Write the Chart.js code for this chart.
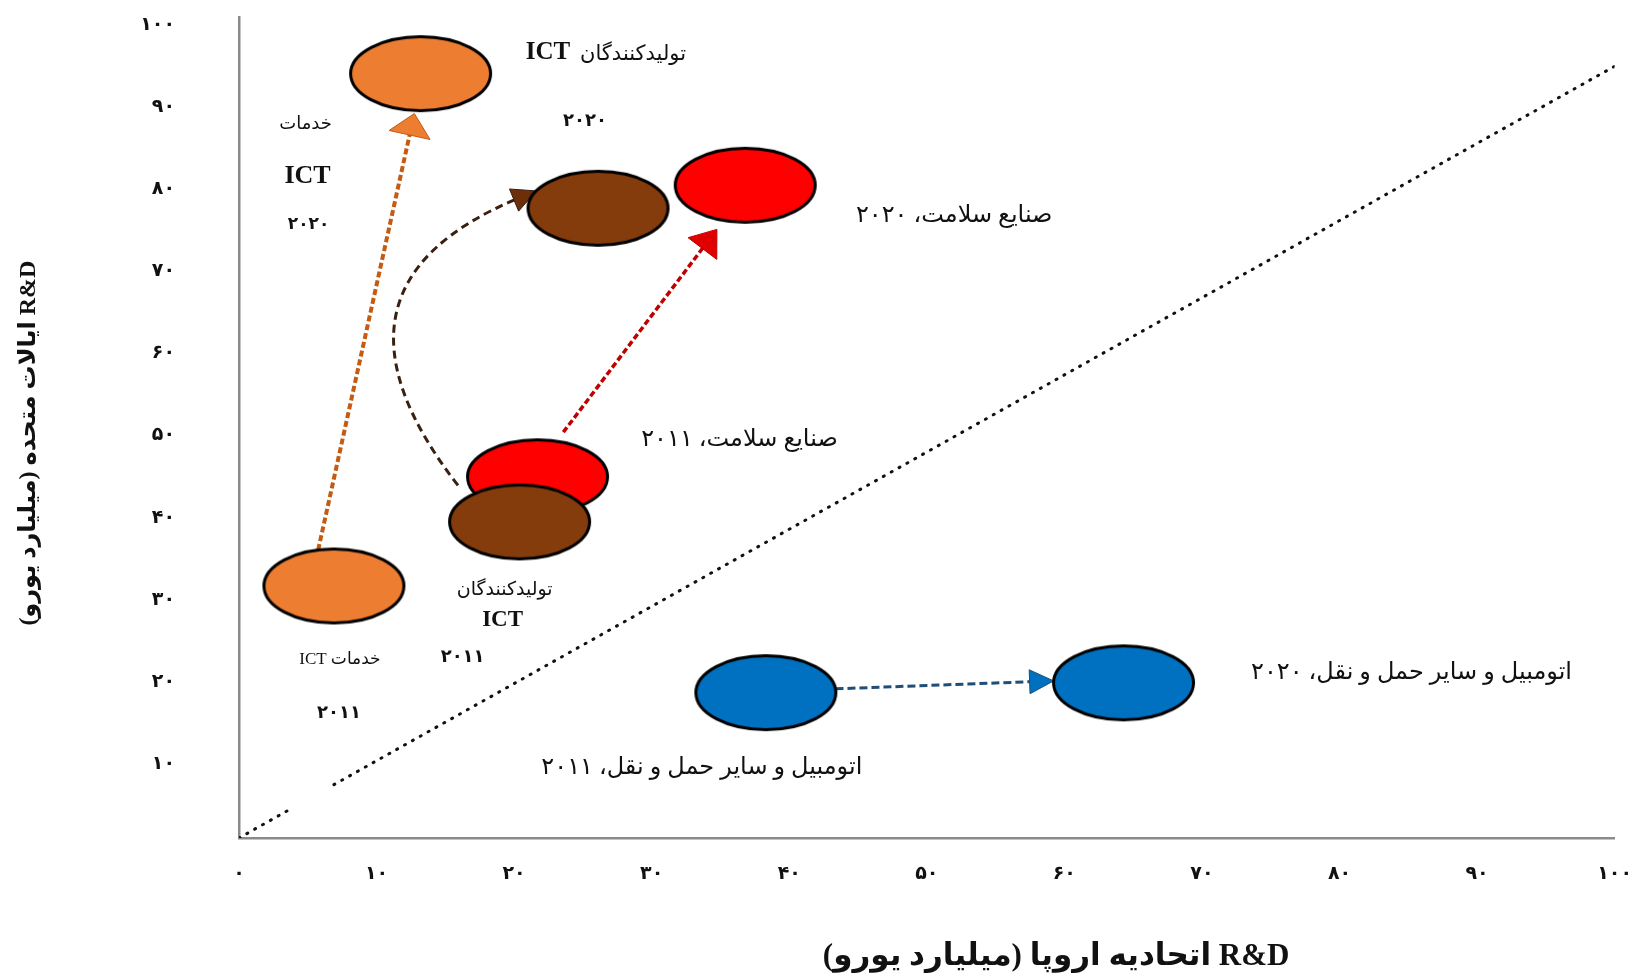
<!DOCTYPE html>
<html lang="fa">
<head>
<meta charset="utf-8">
<script src="https://cdn.jsdelivr.net/npm/chart.js@4.4.1/dist/chart.umd.min.js"></script>
<style>
html,body{margin:0;padding:0;background:#fff;overflow:hidden;}
#wrap{width:1632px;height:977px;}
canvas{display:block;}
</style>
</head>
<body>
<div id="wrap"><canvas id="c" width="1632" height="977" dir="rtl"></canvas></div>
<script>
// ---------- data ----------
const categories = ['خدمات ICT', 'تولیدکنندگان ICT', 'صنایع سلامت', 'اتومبیل و سایر حمل و نقل'];
const years = ['۲۰۱۱', '۲۰۲۰'];
const euRD2011 = [6.9, 20.4, 21.7, 38.3];
const usRD2011 = [30.7, 38.5, 44.0, 17.7];
const euRD2020 = [13.2, 26.1, 36.8, 64.3];
const usRD2020 = [93.1, 76.7, 79.5, 18.9];
const parityX = [0, 3.5, 6.9, 100];
const parityY = [0, 3.3, 6.5, 94];
const xTickLabels = ['۰', '۱۰', '۲۰', '۳۰', '۴۰', '۵۰', '۶۰', '۷۰', '۸۰', '۹۰', '۱۰۰'];
const yTickLabels = ['', '۱۰', '۲۰', '۳۰', '۴۰', '۵۰', '۶۰', '۷۰', '۸۰', '۹۰', '۱۰۰'];
const xTitle = 'R&D اتحادیه اروپا (میلیارد یورو)';
const yTitle = 'R&D ایالات متحده (میلیارد یورو)';

// ---------- styles ----------
const fills = ['#ED7D31', '#843C0C', '#FF0000', '#0070C0'];
const arrowLineColors = ['#C55A11', '#3A2010', '#C00000', '#1F4E79'];
const arrowHeadColors = ['#ED7D31', '#6B300A', '#E00000', '#0070C0'];
const drawOrder = [2, 1, 3, 4];
const RX = 70, RY = 37;
const FAM = "'Liberation Serif','DejaVu Sans',serif";

function ellipseSprite(fill) {
  const lw = 3;
  const c = document.createElement('canvas');
  c.width = 2 * RX + lw + 2; c.height = 2 * RY + lw + 2;
  const g = c.getContext('2d');
  g.beginPath();
  g.ellipse(c.width / 2, c.height / 2, RX, RY, 0, 0, Math.PI * 2);
  g.fillStyle = fill; g.fill();
  g.lineWidth = lw; g.strokeStyle = '#000'; g.stroke();
  return c;
}

// arrow geometry styles (angles on ellipse rim, degrees)
const arrowStyle = [
  {s: -103, e: 95, sg: 0, eg: 3, bend: 0, dash: [6, 3], w: 4, hl: 22, hw: 21},
  {s: -140, e: -152, sg: 15, eg: 0, bend: 200, dash: [8, 5], w: 3, hl: 24, hw: 12},
  {s: -70, e: 112, sg: 10, eg: 10, bend: 0, dash: [6, 3], w: 3.5, hl: 24, hw: 18},
  {s: -6, e: 183, sg: 0, eg: 0, bend: 0, dash: [8, 4], w: 3, hl: 24, hw: 12}
];

// label layout: [part, dx, dy, size, weight]
const labelLayout = [
  [[['name', 6, 74, 17, 'normal'], ['year', 5, 127, 18, 'bold']],
   [['fa', -115, 51, 18, 'normal'], ['ict', -113, 103, 26, 'bold'], ['year', -112, 151, 17, 'bold']]],
  [[['fa', -15, 68, 19, 'normal'], ['ict', -17, 98, 23, 'bold'], ['year', -57, 135, 18, 'bold']],
   [['ict', -50, -156, 25, 'bold'], ['fa', 35, -154, 21, 'normal'], ['year', -13, -87, 18, 'bold']]],
  [[['full', 202, -37, 24, 'normal']], [['full', 209, 30, 24, 'normal']]],
  [[['full', -64, 75, 24, 'normal']], [['full', 288, -10, 24, 'normal']]]
];

function partText(part, i, k) {
  const c = categories[i];
  if (part === 'full') return c + '، ' + years[k];
  if (part === 'name') return c;
  if (part === 'fa') return c.replace(' ICT', '');
  if (part === 'ict') return 'ICT';
  return years[k];
}

function rimPoint(cx, cy, deg, gap) {
  const t = deg * Math.PI / 180;
  const px = cx + RX * Math.cos(t), py = cy + RY * Math.sin(t);
  let nx = Math.cos(t) / RX, ny = Math.sin(t) / RY;
  const n = Math.hypot(nx, ny); nx /= n; ny /= n;
  return {x: px + nx * gap, y: py + ny * gap};
}

const arrowPlugin = {
  id: 'arrows',
  beforeDatasetsDraw(chart) {
    const ctx = chart.ctx;
    categories.forEach((cat, i) => {
      const m = chart.getDatasetMeta(i);
      const a = m.data[0], b = m.data[1];
      const st = arrowStyle[i];
      const S = rimPoint(a.x, a.y, st.s, st.sg);
      const E = rimPoint(b.x, b.y, st.e, st.eg);
      let ux, uy, C = null;
      if (st.bend) {
        const dx = E.x - S.x, dy = E.y - S.y, L = Math.hypot(dx, dy);
        C = {x: (S.x + E.x) / 2 + dy / L * st.bend, y: (S.y + E.y) / 2 - dx / L * st.bend};
        ux = E.x - C.x; uy = E.y - C.y;
      } else { ux = E.x - S.x; uy = E.y - S.y; }
      const ul = Math.hypot(ux, uy); ux /= ul; uy /= ul;
      const HL = st.hl, HW = st.hw;
      ctx.save();
      ctx.strokeStyle = arrowLineColors[i];
      ctx.lineWidth = st.w;
      ctx.setLineDash(st.dash);
      ctx.beginPath();
      ctx.moveTo(S.x, S.y);
      const Ex = E.x - ux * HL * 0.8, Ey = E.y - uy * HL * 0.8;
      if (C) ctx.quadraticCurveTo(C.x, C.y, Ex, Ey); else ctx.lineTo(Ex, Ey);
      ctx.stroke();
      ctx.setLineDash([]);
      ctx.beginPath();
      ctx.moveTo(E.x, E.y);
      ctx.lineTo(E.x - ux * HL - uy * HW, E.y - uy * HL + ux * HW);
      ctx.lineTo(E.x - ux * HL + uy * HW, E.y - uy * HL - ux * HW);
      ctx.closePath();
      ctx.fillStyle = arrowHeadColors[i];
      ctx.fill();
      ctx.lineWidth = 1; ctx.strokeStyle = arrowLineColors[i]; ctx.stroke();
      ctx.restore();
    });
  },
  afterDatasetsDraw(chart) {
    const ctx = chart.ctx;
    ctx.save();
    ctx.direction = 'rtl';
    ctx.textAlign = 'center';
    ctx.textBaseline = 'middle';
    ctx.fillStyle = '#111';
    categories.forEach((cat, i) => {
      const m = chart.getDatasetMeta(i);
      [0, 1].forEach(k => {
        const el = m.data[k];
        labelLayout[i][k].forEach(([part, dx, dy, size, weight]) => {
          ctx.font = weight + ' ' + size + 'px ' + FAM;
          ctx.fillText(partText(part, i, k), el.x + dx, el.y + dy);
        });
      });
    });
    // axis titles
    const ca = chart.chartArea;
    ctx.font = 'bold 31px ' + FAM;
    ctx.fillText(xTitle, ca.left + 0.594 * (ca.right - ca.left), chart.height - 20);
    ctx.translate(29, ca.top + 0.519 * (ca.bottom - ca.top));
    ctx.rotate(-Math.PI / 2);
    ctx.font = 'bold 24px ' + FAM;
    ctx.fillText(yTitle, 0, 0);
    ctx.restore();
  }
};

const datasets = categories.map((cat, i) => ({
  label: cat,
  data: [{x: euRD2011[i], y: usRD2011[i]}, {x: euRD2020[i], y: usRD2020[i]}],
  pointStyle: ellipseSprite(fills[i]),
  pointRadius: 10,
  pointHoverRadius: 10,
  showLine: false,
  order: drawOrder[i]
}));
datasets.push({
  type: 'line',
  label: 'parity',
  data: parityX.map((x, k) => ({x: x, y: parityY[k]})),
  borderColor: '#111',
  borderWidth: 3,
  borderDash: [1, 8],
  borderCapStyle: 'round',
  pointRadius: 0,
  fill: false,
  segment: {borderColor: c => (c.p0DataIndex === 1 ? 'rgba(0,0,0,0)' : undefined)},
  order: 10
});

const tickFont = {family: "'DejaVu Sans'", size: 19, weight: 'bold'};

new Chart(document.getElementById('c'), {
  type: 'scatter',
  data: {datasets},
  plugins: [arrowPlugin],
  options: {
    responsive: false,
    devicePixelRatio: 1,
    animation: false,
    events: [],
    layout: {padding: {top: 17, right: 13, left: 0, bottom: 0}},
    plugins: {legend: {display: false}, tooltip: {enabled: false}},
    scales: {
      x: {
        type: 'linear', min: 0, max: 100, position: 'bottom',
        grid: {display: true, drawOnChartArea: false, drawTicks: true, tickLength: 25, tickColor: 'rgba(0,0,0,0)'},
        border: {display: true, color: '#8a8a8a', width: 2.5},
        ticks: {stepSize: 10, padding: 0, color: '#111', font: tickFont, maxRotation: 0, autoSkip: false,
          callback: v => xTickLabels[Math.round(v / 10)] ?? ''},
        afterFit: s => { s.height = 139; }
      },
      y: {
        type: 'linear', min: 0, max: 100, position: 'left',
        grid: {display: true, drawOnChartArea: false, drawTicks: true, tickLength: 64, tickColor: 'rgba(0,0,0,0)'},
        border: {display: true, color: '#8a8a8a', width: 2.5},
        ticks: {stepSize: 10, padding: 0, labelOffset: 8, color: '#111', font: tickFont, autoSkip: false,
          callback: v => yTickLabels[Math.round(v / 10)] ?? ''},
        afterFit: s => { s.width = 239; }
      }
    }
  }
});
</script>
</body>
</html>
